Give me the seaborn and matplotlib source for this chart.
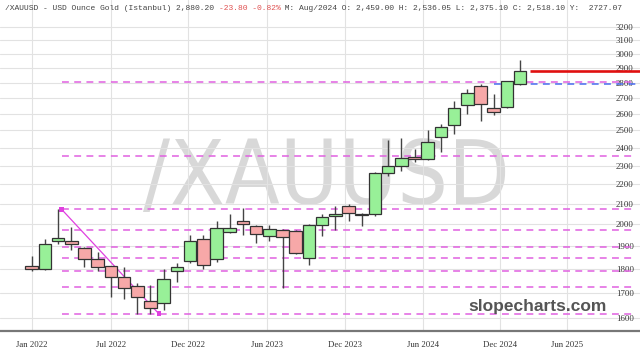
import numpy as np
import pandas as pd
import matplotlib
matplotlib.use("Agg")
import matplotlib.pyplot as plt
import matplotlib.ticker as mticker
from matplotlib import font_manager
import seaborn as sns

# ---------------- data ----------------
months = ["Jan22","Feb22","Mar22","Apr22","May22","Jun22","Jul22","Aug22","Sep22","Oct22","Nov22","Dec22",
          "Jan23","Feb23","Mar23","Apr23","May23","Jun23","Jul23","Aug23","Sep23","Oct23","Nov23","Dec23",
          "Jan24","Feb24","Mar24","Apr24","May24","Jun24","Jul24","Aug24","Sep24","Oct24","Nov24","Dec24",
          "Jan25","Feb25"]
opens  = [1813,1797,1921,1923,1890,1841,1810,1762,1725,1668,1657,1789,
          1834,1929,1841,1962,2014,1991,1946,1973,1970,1845,1995,2040,
          2091,2050,2047,2257,2297,2346,2338,2459.00,2530,2656,2779,2636,
          2646,2790]
highs  = [1854,1933,2072,1986,1894,1871,1812,1806,1739,1730,1797,1823,
          1948,1950,2017,2050,2077,1995,1995,1977,1973,2002,2050,2088,
          2099,2054,2264,2443,2457,2394,2502,2536.05,2680,2760,2789,2727,
          2814,2956]
lows   = [1790,1795,1908,1881,1806,1790,1684,1673,1616,1616,1631,1745,
          1823,1800,1828,1960,1949,1915,1923,1720,1862,1817,1946,1973,
          2017,1991,2040,2245,2272,2317,2329,2375.10,2480,2600,2558,2592,
          2640,2788]
closes = [1797,1907,1936,1907,1841,1808,1762,1717,1682,1637,1756,1806,
          1921,1817,1980,1980,2000,1955,1976,1940,1866,1995,2036,2051,
          2054,2046,2257,2297,2341,2337,2433,2518.10,2640,2731,2662,2611,
          2814,2880]

fib_levels = [1616, 1722, 1790, 1844, 1896, 1973, 2072, 2354, 2808]
trend_prices = [2072, 1616]
last_price = 2880.20
blue_level = 2790

y_ticks = [1600,1700,1800,1900,2000,2100,2200,2300,2400,2500,2600,2700,2800,2900,3000,3100,3200]
x_tick_labels = ["Jan 2022","Jul 2022","Dec 2022","Jun 2023","Dec 2023","Jun 2024","Dec 2024","Jun 2025"]
x_tick_pos = [0, 6.0, 11.84, 17.8, 23.73, 29.64, 35.48, 40.53]

header_a = "/XAUUSD - USD Ounce Gold (Istanbul) 2,880.20 "
header_b = "-23.80 -0.82%"
header_c = " M: Aug/2024 O: 2,459.00 H: 2,536.05 L: 2,375.10 C: 2,518.10 Y:  2727.07"
watermark = "/XAUUSD"
site = "slopecharts.com"

df = pd.DataFrame({"month": months, "open": opens, "high": highs, "low": lows, "close": closes})
df["i"] = np.arange(len(df))
df["up"] = df["close"] >= df["open"]

# ---------------- figure ----------------
sns.set_theme(style="white")
plt.rcParams["font.family"] = ["Liberation Serif", "DejaVu Serif"]

fig = plt.figure(figsize=(6.4, 3.6), dpi=100)
ax = fig.add_axes([0, 29/360, 1, 331/360])
ax.set_zorder(1)
ax.patch.set_alpha(0)
ax.set_yscale("log")
ax.set_xlim(-2.40, 46.08)
ax.set_ylim(1551.4, 3409.9)

# grid
for v in y_ticks:
    ax.axhline(v, color="#e2e2e2", lw=0.8, zorder=0)
for p in x_tick_pos:
    ax.axvline(p, color="#e2e2e2", lw=0.8, zorder=0)

# watermark: pick a narrow face if available, fit to reference width
wm_family, wm_stretch = "Liberation Sans", "normal"
for f in font_manager.fontManager.ttflist:
    if ("Narrow" in f.name or "Condensed" in f.name or
            str(f.stretch) in ("condensed", "semi-condensed", "extra-condensed")) and \
            str(f.weight) in ("400", "normal", "regular") and str(f.style) == "normal":
        wm_family, wm_stretch = f.name, f.stretch
        break
wm = fig.text(326/640, 0.5, watermark, ha="center", va="baseline", fontsize=60,
              family=wm_family, stretch=wm_stretch, color="#d8d8d8", zorder=0)
fig.canvas.draw()
bb = wm.get_window_extent()
fs = 60 * 367.0 / bb.width
wm.set_fontsize(fs)
fs_px = fs * 100 / 72.0
wm.set_y(1 - (172 + 0.36 * fs_px) / 360)

# fib levels
x_fib0 = 2.27
x_end = 45.8
for lv in fib_levels:
    ax.hlines(lv, x_fib0, x_end, colors="#e060e0", lw=1.1, linestyles=(0, (4.5, 3.5)), zorder=1)
ax.hlines(blue_level, 35.0, x_end, colors="#4a6cf0", lw=1.1, linestyles=(0, (4.5, 3.5)), zorder=1)

trend = pd.DataFrame({"x": [x_fib0, 9.64], "y": trend_prices})
sns.lineplot(data=trend, x="x", y="y", ax=ax, color="#e040e0", lw=0.9, zorder=2)
sns.scatterplot(data=trend, x="x", y="y", ax=ax, color="#e040e0", marker="s", s=12,
                edgecolor="none", zorder=3)

# candles
w = 0.95
ax.vlines(df["i"], df["low"], df["high"], colors="#444444", lw=1.0, zorder=3)
bottoms = np.minimum(df["open"], df["close"])
heights = np.abs(df["close"] - df["open"])
heights = np.maximum(heights, 2.0)
cols = np.where(df["up"], "#98f098", "#f7a8a8")
ax.bar(df["i"], heights, bottom=bottoms, width=w, color=cols, edgecolor="#333333",
       linewidth=0.9, zorder=4)

# last price line
ax.hlines(last_price, 37.75, 46.08, colors="#e01010", lw=1.9, zorder=5)

# axes styling
ax.yaxis.set_major_locator(mticker.FixedLocator(y_ticks))
ax.yaxis.set_minor_locator(mticker.NullLocator())
ax.yaxis.set_major_formatter(mticker.FixedFormatter([str(v) for v in y_ticks]))
ax.yaxis.tick_right()
ax.tick_params(axis="y", which="both", length=0, pad=-17.5, labelsize=6.3, colors="#333333")
for lbl in ax.get_yticklabels():
    lbl.set_horizontalalignment("left")
ax.set_xticks(x_tick_pos)
ax.set_xticklabels(x_tick_labels)
ax.tick_params(axis="x", length=0, pad=7, labelsize=6.3, colors="#333333")
ax.set_xlabel("")
ax.set_ylabel("")
for s in ["top", "left", "right"]:
    ax.spines[s].set_visible(False)
ax.spines["bottom"].set_color("#777777")
ax.spines["bottom"].set_linewidth(1.6)

# site label
ax.text(607/640, 1 - (306 - 0) / 331 + 0.0, "", transform=ax.transAxes)
fig.text(607/640, 1 - 306/360, site, ha="right", va="center", fontsize=12.5,
         fontweight="bold", family=["Liberation Sans", "DejaVu Sans"], color="#555555", zorder=10)

# header
hdr_font = ["Liberation Mono", "DejaVu Sans Mono"]
t1 = fig.text(5/640, 1 - 8/360, header_a, ha="left", va="center", fontsize=5.8,
              family=hdr_font, color="#444444", zorder=10)
t2 = ax.annotate(header_b, xy=(1, 0), xycoords=t1, va="bottom", ha="left", fontsize=5.8,
                 family=hdr_font, color="#e05050", annotation_clip=False)
t3 = ax.annotate(header_c, xy=(1, 0), xycoords=t2, va="bottom", ha="left", fontsize=5.8,
                 family=hdr_font, color="#444444", annotation_clip=False)

fig.savefig("out.png", dpi=100, facecolor="white")
